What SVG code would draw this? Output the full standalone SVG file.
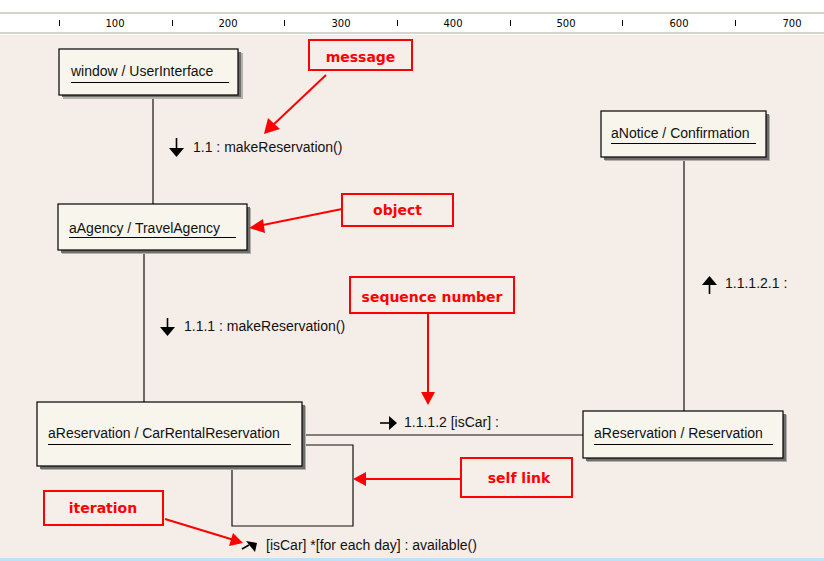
<svg xmlns="http://www.w3.org/2000/svg" width="824" height="561" viewBox="0 0 824 561">
<defs>
<style>
.node{fill:#F8F6EC;stroke:#000;stroke-width:1.2}
.shadow{fill:#6e6e6e}
.shadow2{fill:#b4b0aa}
.nt{font-family:"Liberation Sans",Arial,sans-serif;font-size:14px;fill:#111}
.ul{stroke:#000;stroke-width:1}
.conn{stroke:#111;stroke-width:1.2;fill:none}
.msg{font-family:"Liberation Sans",Arial,sans-serif;font-size:14px;fill:#111}
.ar{stroke:#000;stroke-width:1.6;fill:none}
.ah{fill:#000}
.rbox{fill:#F6EEE8;stroke:#FF0000;stroke-width:2}
.rt{font-family:"DejaVu Sans",Verdana,sans-serif;font-weight:bold;font-size:14px;fill:#FF0000;text-anchor:middle}
.rl{stroke:#FF0000;stroke-width:2;fill:none}
.rh{fill:#FF0000}
.tick{font-family:"DejaVu Sans",Tahoma,sans-serif;font-size:10px;fill:#000;text-anchor:middle}
</style>
</defs>
<rect x="0" y="0" width="824" height="561" fill="#F5EDE7"/>
<g id="ruler">
<rect x="0" y="0" width="824" height="35" fill="#ffffff"/>
<rect x="0" y="12" width="824" height="2" fill="#d6d3c8"/>
<rect x="0" y="32" width="824" height="2" fill="#d6d3c8"/>
<g stroke="#000" stroke-width="1">
<line x1="59.5" y1="20" x2="59.5" y2="26"/>
<line x1="172.5" y1="20" x2="172.5" y2="26"/>
<line x1="284.5" y1="20" x2="284.5" y2="26"/>
<line x1="397.5" y1="20" x2="397.5" y2="26"/>
<line x1="510.5" y1="20" x2="510.5" y2="26"/>
<line x1="622.5" y1="20" x2="622.5" y2="26"/>
<line x1="735.5" y1="20" x2="735.5" y2="26"/>
</g>
<text class="tick" x="115" y="27">100</text>
<text class="tick" x="228" y="27">200</text>
<text class="tick" x="341" y="27">300</text>
<text class="tick" x="453" y="27">400</text>
<text class="tick" x="566" y="27">500</text>
<text class="tick" x="679" y="27">600</text>
<text class="tick" x="792" y="27">700</text>
</g>
<rect x="0" y="558" width="824" height="3" fill="#bfe0f5"/>

<g id="connectors">
<line class="conn" x1="153" y1="96" x2="153" y2="204"/>
<line class="conn" x1="144" y1="250" x2="144" y2="402"/>
<line class="conn" x1="684" y1="157" x2="684" y2="411"/>
<line class="conn" x1="302" y1="435" x2="583" y2="435"/>
<polyline class="conn" points="302,445 353,445 353,526 232,526 232,466"/>
</g>

<g id="node-window">
<rect class="shadow2" x="63" y="53" width="180" height="46"/>
<rect class="shadow" x="62" y="52" width="179" height="45"/>
<rect class="node" x="59" y="49" width="179" height="46"/>
<text class="nt" x="71" y="76">window / UserInterface</text>
<line class="ul" x1="71" y1="82.5" x2="229" y2="82.5"/>
</g>

<g id="node-agency">
<rect class="shadow2" x="62" y="208" width="189" height="46"/>
<rect class="shadow" x="61" y="207" width="189" height="46"/>
<rect class="node" x="58" y="204" width="189" height="46"/>
<text class="nt" x="69" y="233">aAgency / TravelAgency</text>
<line class="ul" x1="69" y1="237.5" x2="236" y2="237.5"/>
</g>

<g id="node-notice">
<rect class="shadow2" x="605" y="115" width="165" height="46"/>
<rect class="shadow" x="604" y="114" width="165" height="46"/>
<rect class="node" x="601" y="111" width="165" height="46"/>
<text class="nt" x="611" y="138">aNotice / Confirmation</text>
<line class="ul" x1="611" y1="143.5" x2="756" y2="143.5"/>
</g>

<g id="node-carrental">
<rect class="shadow2" x="41" y="406" width="265" height="64"/>
<rect class="shadow" x="40" y="405" width="265" height="64"/>
<rect class="node" x="37" y="402" width="265" height="64"/>
<text class="nt" x="48" y="438">aReservation / CarRentalReservation</text>
<line class="ul" x1="48" y1="444.5" x2="291" y2="444.5"/>
</g>

<g id="node-reservation">
<rect class="shadow2" x="587" y="415" width="200" height="47"/>
<rect class="shadow" x="586" y="414" width="200" height="47"/>
<rect class="node" x="583" y="411" width="200" height="47"/>
<text class="nt" x="594" y="438">aReservation / Reservation</text>
<line class="ul" x1="594" y1="444.5" x2="773" y2="444.5"/>
</g>

<g id="messages">
<line class="ar" x1="176.5" y1="138" x2="176.5" y2="149"/>
<polygon class="ah" points="169,148 184,148 176.5,157"/>
<text class="msg" x="193" y="152">1.1 : makeReservation()</text>

<line class="ar" x1="167.5" y1="318" x2="167.5" y2="328"/>
<polygon class="ah" points="160,327 175,327 167.5,336"/>
<text class="msg" x="184" y="331">1.1.1 : makeReservation()</text>

<line class="ar" x1="709.5" y1="284" x2="709.5" y2="294"/>
<polygon class="ah" points="702,285 717,285 709.5,276"/>
<text class="msg" x="725" y="288">1.1.1.2.1 :</text>

<line class="ar" x1="380" y1="423" x2="390" y2="423"/>
<polygon class="ah" points="389,416 389,430 397,423"/>
<text class="msg" x="404" y="427">1.1.1.2 [isCar] :</text>

<line class="ar" x1="242" y1="549" x2="249" y2="545"/>
<polygon class="ah" points="246,541 257,543 255,552"/>
<text class="msg" x="266" y="550">[isCar] *[for each day] : available()</text>
</g>

<g id="note-message">
<rect class="rbox" x="309" y="40" width="103" height="30"/>
<text class="rt" x="360.5" y="62">message</text>
<line class="rl" x1="326" y1="75" x2="272" y2="126"/>
<polygon class="rh" points="264,134 268,118 280,129"/>
</g>

<g id="note-object">
<rect class="rbox" x="342" y="194" width="111" height="32"/>
<text class="rt" x="397.5" y="215">object</text>
<line class="rl" x1="342" y1="209" x2="258" y2="226"/>
<polygon class="rh" points="249,228 263,219 265,233"/>
</g>

<g id="note-sequence">
<rect class="rbox" x="350" y="277" width="164" height="36"/>
<text class="rt" x="432" y="302">sequence number</text>
<line class="rl" x1="428" y1="313" x2="428" y2="395"/>
<polygon class="rh" points="421,392 435,392 428,405"/>
</g>

<g id="note-selflink">
<rect class="rbox" x="461" y="458" width="111" height="39"/>
<text class="rt" x="519" y="483">self link</text>
<line class="rl" x1="461" y1="479" x2="363" y2="479"/>
<polygon class="rh" points="353,479 366,472 366,486"/>
</g>

<g id="note-iteration">
<rect class="rbox" x="44" y="491" width="119" height="34"/>
<text class="rt" x="103" y="513">iteration</text>
<line class="rl" x1="165" y1="519" x2="234" y2="540"/>
<polygon class="rh" points="243,543 229,546 233,533"/>
</g>
</svg>
